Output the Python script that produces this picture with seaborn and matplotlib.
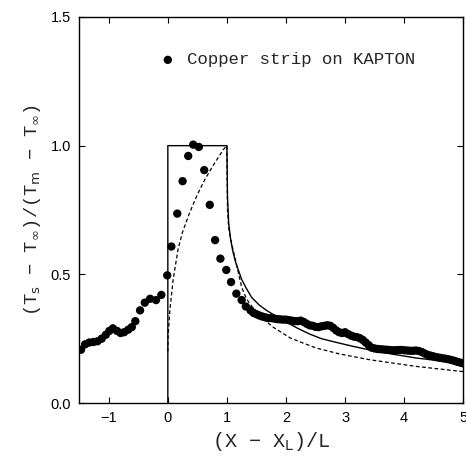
import pandas as pd
import matplotlib
matplotlib.use("Agg")
import matplotlib.pyplot as plt
import seaborn as sns

# measured points: copper strip on KAPTON
meas_x = [-1.47, -1.40, -1.33, -1.26, -1.19, -1.12, -1.05, -0.99, -0.93, -0.86,
          -0.80, -0.74, -0.67, -0.61, -0.55, -0.47, -0.39, -0.30, -0.20, -0.11,
          -0.01,
          0.06, 0.16, 0.25, 0.345, 0.43, 0.525, 0.616, 0.71, 0.80, 0.89,
          0.99, 1.07, 1.16, 1.25, 1.32,
          1.40, 1.45, 1.50, 1.55, 1.60, 1.65, 1.70, 1.75, 1.80, 1.85,
          1.90, 1.95, 2.00, 2.05, 2.10, 2.15, 2.20, 2.25, 2.30, 2.35,
          2.40, 2.45, 2.50, 2.55, 2.60, 2.65, 2.70, 2.75, 2.80, 2.85,
          2.90, 2.95, 3.00, 3.05, 3.10, 3.15, 3.20, 3.25, 3.30, 3.35,
          3.40, 3.45, 3.50, 3.55, 3.60, 3.65, 3.70, 3.75, 3.80, 3.85,
          3.90, 3.95, 4.00, 4.05, 4.10, 4.15, 4.20, 4.25, 4.30, 4.35,
          4.40, 4.45, 4.50, 4.55, 4.60, 4.65, 4.70, 4.75, 4.80, 4.85,
          4.90, 4.95, 5.00]
meas_y = [0.207, 0.228, 0.235, 0.237, 0.240, 0.250, 0.265, 0.280, 0.290, 0.280,
          0.272, 0.275, 0.285, 0.295, 0.318, 0.360, 0.390, 0.405, 0.400, 0.420,
          0.496,
          0.608, 0.736, 0.862, 0.960, 1.004, 0.995, 0.905, 0.770, 0.633, 0.561,
          0.517, 0.470, 0.425, 0.400, 0.375,
          0.360, 0.350, 0.345, 0.340, 0.336, 0.333, 0.330, 0.330, 0.328, 0.326,
          0.325, 0.324, 0.324, 0.322, 0.320, 0.318, 0.318, 0.320, 0.315, 0.308,
          0.302, 0.300, 0.296, 0.295, 0.298, 0.300, 0.302, 0.300, 0.292, 0.282,
          0.275, 0.272, 0.275, 0.268, 0.262, 0.258, 0.256, 0.252, 0.245, 0.235,
          0.225, 0.215, 0.212, 0.210, 0.209, 0.208, 0.207, 0.206, 0.205, 0.205,
          0.206, 0.206, 0.205, 0.204, 0.203, 0.203, 0.204, 0.202, 0.198, 0.192,
          0.187, 0.184, 0.181, 0.178, 0.176, 0.174, 0.172, 0.170, 0.167, 0.164,
          0.160, 0.157, 0.154]

# model curves
solid_x = [0.0, 0.0, 1.0, 1.01, 1.03, 1.06, 1.10, 1.15, 1.25, 1.33, 1.42, 1.55,
           1.67, 1.85, 2.0, 2.2, 2.4, 2.6, 2.86, 3.1, 3.4, 3.8, 4.2, 4.6, 5.0]
solid_y = [0.0, 1.0, 1.0, 0.80, 0.70, 0.64, 0.59, 0.545, 0.48, 0.445, 0.41, 0.38,
           0.36, 0.335, 0.315, 0.29, 0.268, 0.25, 0.235, 0.222, 0.207, 0.19,
           0.175, 0.164, 0.155]

dash_x = [0.0, 0.005, 0.034, 0.09, 0.175, 0.25, 0.37, 0.5, 0.63, 0.8, 0.94, 1.0,
          1.01, 1.03, 1.08, 1.14, 1.25, 1.33, 1.42, 1.6, 1.78, 2.07, 2.3, 2.52,
          2.92, 3.42, 4.21, 5.0]
dash_y = [0.20, 0.26, 0.36, 0.48, 0.60, 0.665, 0.74, 0.81, 0.87, 0.935, 0.985, 1.0,
          0.75, 0.68, 0.62, 0.56, 0.45, 0.405, 0.376, 0.33, 0.295, 0.253, 0.232,
          0.213, 0.19, 0.168, 0.142, 0.122]

x_ticks = [-1, 0, 1, 2, 3, 4, 5]
x_ticklabels = ["\u22121", "0", "1", "2", "3", "4", "5"]
y_ticks = [0.0, 0.5, 1.0, 1.5]
y_ticklabels = ["0.0", "0.5", "1.0", "1.5"]

meas = pd.DataFrame({"x": meas_x, "y": meas_y})
solid = pd.DataFrame({"x": solid_x, "y": solid_y})
dash = pd.DataFrame({"x": dash_x, "y": dash_y})

sns.set_style("ticks")
plt.rcParams["font.family"] = ["Liberation Sans", "DejaVu Sans"]

fig = plt.figure(figsize=(4.66, 4.59), dpi=100)
ax = fig.add_axes([0.170, 0.122, 0.824, 0.841])

sns.lineplot(data=solid, x="x", y="y", ax=ax, sort=False, estimator=None,
             color="black", linewidth=1.0)
sns.lineplot(data=dash, x="x", y="y", ax=ax, sort=False, estimator=None,
             color="black", linewidth=0.9, linestyle=(0, (3, 2)))
sns.scatterplot(data=meas, x="x", y="y", ax=ax, color="black", s=36,
                edgecolor="none", label="Copper strip on KAPTON", zorder=3)

ax.set_xlim(-1.5, 5)
ax.set_ylim(0, 1.5)
ax.set_xticks(x_ticks)
ax.set_xticklabels(x_ticklabels)
ax.set_yticks(y_ticks)
ax.set_yticklabels(y_ticklabels)
ax.tick_params(direction="in", top=True, right=True, length=4, width=0.8,
               labelsize=10.5, colors="black", pad=6)
for sp in ax.spines.values():
    sp.set_linewidth(1.0)
    sp.set_color("black")

ax.set_xlabel("(X \u2212 X$_\\mathrm{L}$)/L", family="Liberation Mono",
              fontsize=14.5, labelpad=3)
ax.set_ylabel("(T$_\\mathrm{s}$ \u2212 T$_\\infty$)/(T$_\\mathrm{m}$ \u2212 T$_\\infty$)",
              family="Liberation Mono", fontsize=13.5, labelpad=5)

leg = ax.legend(loc="center left", bbox_to_anchor=(0.19, 0.889), frameon=False,
                handletextpad=0.6, handlelength=1.0, borderaxespad=0,
                prop={"family": "Liberation Mono", "size": 12.5})

fig.savefig("out.png", dpi=100)
